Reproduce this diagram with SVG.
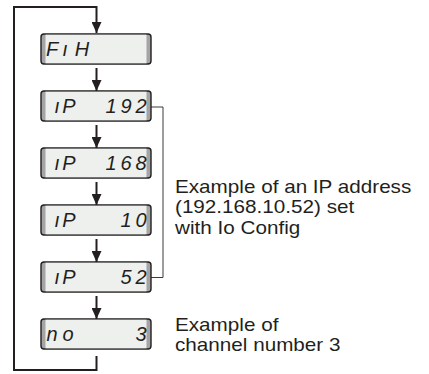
<svg xmlns="http://www.w3.org/2000/svg" width="429" height="374" viewBox="0 0 429 374">
<style>
.frame{fill:#a4a4a4;stroke:#231f20;stroke-width:1.4}
.face{fill:#eef0ee}
.lcd{font-family:"Liberation Sans",Arial,sans-serif;font-style:italic;font-size:20px;fill:#231f20;text-anchor:middle}
.lbl{font-family:"Liberation Sans",Arial,sans-serif;font-size:18.3px;fill:#231f20}
.flow{fill:none;stroke:#231f20;stroke-width:2}
.brk{fill:none;stroke:#3a3a3a;stroke-width:1}
</style>
<defs>
<marker id="ah" viewBox="0 0 11 10" refX="11" refY="5" markerWidth="11" markerHeight="10" markerUnits="userSpaceOnUse" orient="auto">
<path d="M0,0 L11,5 L0,10 z" fill="#231f20"/>
</marker>
</defs>
<g id="connectors">
<path class="flow" d="M96.5,356 V370 H14 V7 H96.5 V33" marker-end="url(#ah)"/>
<path class="flow" d="M96.5,68 V91" marker-end="url(#ah)"/>
<path class="flow" d="M96.5,125 V148" marker-end="url(#ah)"/>
<path class="flow" d="M96.5,182 V205" marker-end="url(#ah)"/>
<path class="flow" d="M96.5,239 V262" marker-end="url(#ah)"/>
<path class="flow" d="M96.5,296 V319" marker-end="url(#ah)"/>
<path class="brk" d="M151,107 H163 V277.5 H151"/>
</g>
<g id="n1">
<rect class="frame" x="41" y="34" width="110" height="30" rx="3"/>
<rect class="face" x="45.5" y="34.7" width="101" height="28.6"/>
<text class="lcd" x="52 65 82" y="56">FıH</text>
</g>
<g id="n2">
<rect class="frame" x="41" y="91" width="110" height="30" rx="3"/>
<rect class="face" x="45.5" y="91.7" width="101" height="28.6"/>
<text class="lcd" x="57 69 111 126 141" y="113">ıP192</text>
</g>
<g id="n3">
<rect class="frame" x="41" y="148" width="110" height="30" rx="3"/>
<rect class="face" x="45.5" y="148.7" width="101" height="28.6"/>
<text class="lcd" x="57 69 111 126 141" y="170">ıP168</text>
</g>
<g id="n4">
<rect class="frame" x="41" y="205" width="110" height="30" rx="3"/>
<rect class="face" x="45.5" y="205.7" width="101" height="28.6"/>
<text class="lcd" x="57 69 126 141" y="227">ıP10</text>
</g>
<g id="n5">
<rect class="frame" x="41" y="262" width="110" height="30" rx="3"/>
<rect class="face" x="45.5" y="262.7" width="101" height="28.6"/>
<text class="lcd" x="57 69 126 141" y="284">ıP52</text>
</g>
<g id="n6">
<rect class="frame" x="41" y="319" width="110" height="30" rx="3"/>
<rect class="face" x="45.5" y="319.7" width="101" height="28.6"/>
<text class="lcd" x="52 68 141" y="341">no3</text>
</g>
<g id="labels" transform="translate(175 0) scale(1.13 1) translate(-175 0)">
<text class="lbl" x="175" y="193">Example of an IP address</text>
<text class="lbl" x="175" y="213.5">(192.168.10.52) set</text>
<text class="lbl" x="175" y="234">with Io Config</text>
<text class="lbl" x="175" y="331">Example of</text>
<text class="lbl" x="175" y="351.5">channel number 3</text>
</g>
</svg>
